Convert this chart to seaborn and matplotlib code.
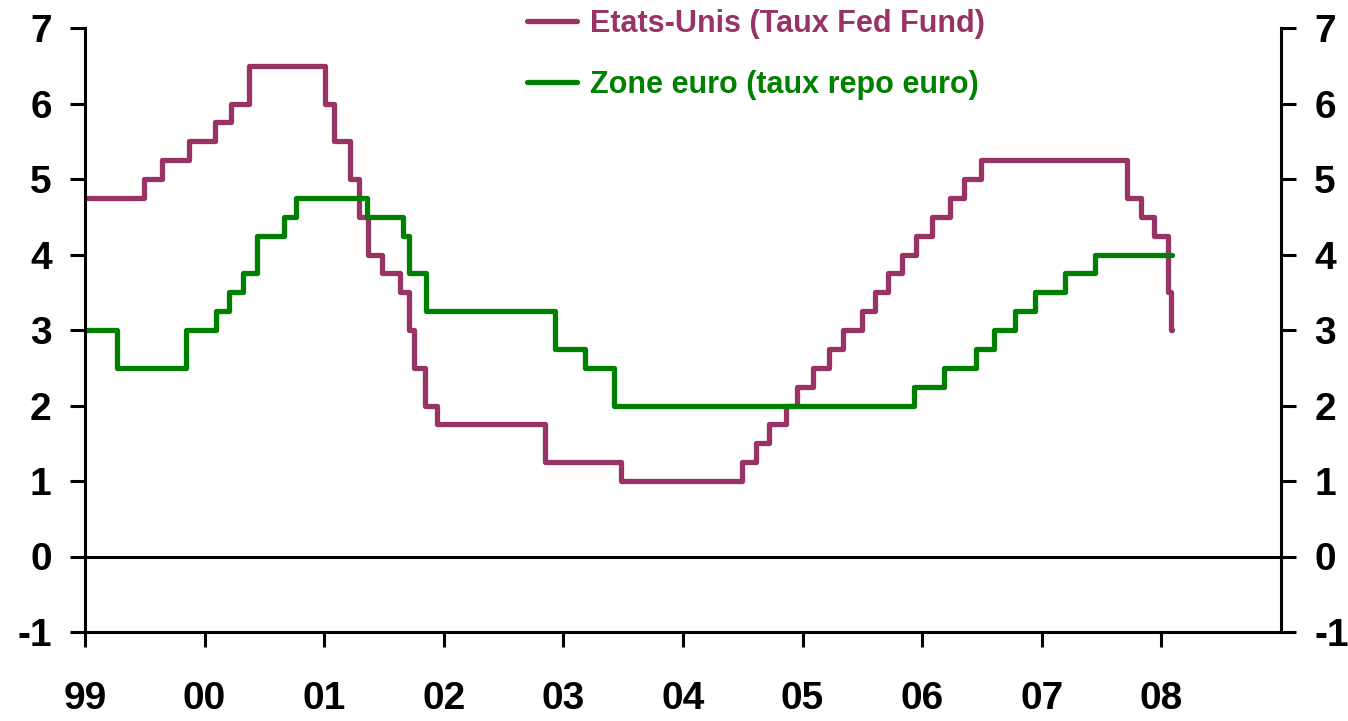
import pandas as pd
import matplotlib
matplotlib.use("Agg")
import matplotlib.pyplot as plt
import seaborn as sns

# policy rate change dates and new levels
fed_dates = ["1999-01-01", "1999-06-30", "1999-08-24", "1999-11-16", "2000-02-02",
             "2000-03-21", "2000-05-16", "2001-01-03", "2001-01-31", "2001-03-20",
             "2001-04-18", "2001-05-15", "2001-06-27", "2001-08-21", "2001-09-17",
             "2001-10-02", "2001-11-06", "2001-12-11", "2002-11-06", "2003-06-25",
             "2004-06-30", "2004-08-10", "2004-09-21", "2004-11-10", "2004-12-14",
             "2005-02-02", "2005-03-22", "2005-05-03", "2005-06-30", "2005-08-09",
             "2005-09-20", "2005-11-01", "2005-12-13", "2006-01-31", "2006-03-28",
             "2006-05-10", "2006-06-29", "2007-09-18", "2007-10-31", "2007-12-11",
             "2008-01-22", "2008-01-30", "2008-02-03"]
fed_rates = [4.75, 5.00, 5.25, 5.50, 5.75, 6.00, 6.50, 6.00, 5.50, 5.00,
             4.50, 4.00, 3.75, 3.50, 3.00, 2.50, 2.00, 1.75, 1.25, 1.00,
             1.25, 1.50, 1.75, 2.00, 2.25, 2.50, 2.75, 3.00, 3.25, 3.50,
             3.75, 4.00, 4.25, 4.50, 4.75, 5.00, 5.25, 4.75, 4.50, 4.25,
             3.50, 3.00, 3.00]

ecb_dates = ["1999-01-01", "1999-04-09", "1999-11-05", "2000-02-04", "2000-03-17",
             "2000-04-28", "2000-06-09", "2000-09-01", "2000-10-06", "2001-05-11",
             "2001-08-31", "2001-09-18", "2001-11-09", "2002-12-06", "2003-03-07",
             "2003-06-06", "2005-12-06", "2006-03-08", "2006-06-15", "2006-08-09",
             "2006-10-11", "2006-12-13", "2007-03-14", "2007-06-13", "2008-02-03"]
ecb_rates = [3.00, 2.50, 3.00, 3.25, 3.50, 3.75, 4.25, 4.50, 4.75, 4.50,
             4.25, 3.75, 3.25, 2.75, 2.50, 2.00, 2.25, 2.50, 2.75, 3.00,
             3.25, 3.50, 3.75, 4.00, 4.00]

year_ticks = list(range(1999, 2009))
year_labels = ["99", "00", "01", "02", "03", "04", "05", "06", "07", "08"]
y_ticks = [-1, 0, 1, 2, 3, 4, 5, 6, 7]
y_labels = ["-1", "0", "1", "2", "3", "4", "5", "6", "7"]

fed_col = "#993366"
ecb_col = "#008000"


def decimal_year(dates):
    d = pd.to_datetime(pd.Series(dates))
    return d.dt.year + (d.dt.dayofyear - 1) / 365.25


df_fed = pd.DataFrame({"annee": decimal_year(fed_dates), "taux": fed_rates})
df_ecb = pd.DataFrame({"annee": decimal_year(ecb_dates), "taux": ecb_rates})

sns.set_style("white")
plt.rcParams["font.family"] = ["Liberation Sans", "DejaVu Sans"]
plt.rcParams["font.weight"] = "bold"
plt.rcParams["text.color"] = "black"
plt.rcParams["xtick.color"] = "black"
plt.rcParams["ytick.color"] = "black"

fig = plt.figure(figsize=(13.48, 7.21), dpi=100)
ax = fig.add_axes([85 / 1348, 1 - 632 / 721, (1281 - 85) / 1348, (632 - 28) / 721])

sns.lineplot(data=df_fed, x="annee", y="taux", drawstyle="steps-post", color=fed_col,
             lw=3.8, label="Etats-Unis (Taux Fed Fund)", ax=ax, solid_capstyle="round")
sns.lineplot(data=df_ecb, x="annee", y="taux", drawstyle="steps-post", color=ecb_col,
             lw=3.8, label="Zone euro (taux repo euro)", ax=ax, solid_capstyle="round")
ax.axhline(0, color="black", lw=2.2, zorder=1)

ax.set_xlim(1999, 2009)
ax.set_ylim(-1, 7)
ax.set_xticks(year_ticks)
ax.set_xticklabels(year_labels)
ax.set_yticks(y_ticks)
ax.set_yticklabels(y_labels)
ax.set_xlabel("")
ax.set_ylabel("")

for side in ["left", "right", "bottom"]:
    ax.spines[side].set_linewidth(2.2)
    ax.spines[side].set_color("black")
ax.spines["top"].set_visible(False)

ax.tick_params(axis="x", direction="out", length=11, width=2.2, pad=24,
               labelsize=28, bottom=True)
ax.tick_params(axis="y", direction="out", length=11, width=2.2, pad=13,
               labelsize=28, left=True, right=True, labelright=True)

handles, labels = ax.get_legend_handles_labels()
ax.get_legend().remove()
leg = fig.legend(handles, labels, loc="upper left",
                 bbox_to_anchor=(527 / 1348, 1 - 9 / 721), frameon=False,
                 fontsize=22, handlelength=1.63, handletextpad=0.42,
                 labelspacing=1.0, borderpad=0, borderaxespad=0)
for txt, col in zip(leg.get_texts(), [fed_col, ecb_col]):
    txt.set_color(col)
    txt.set_fontweight("bold")

fig.savefig("out.png", dpi=100)
